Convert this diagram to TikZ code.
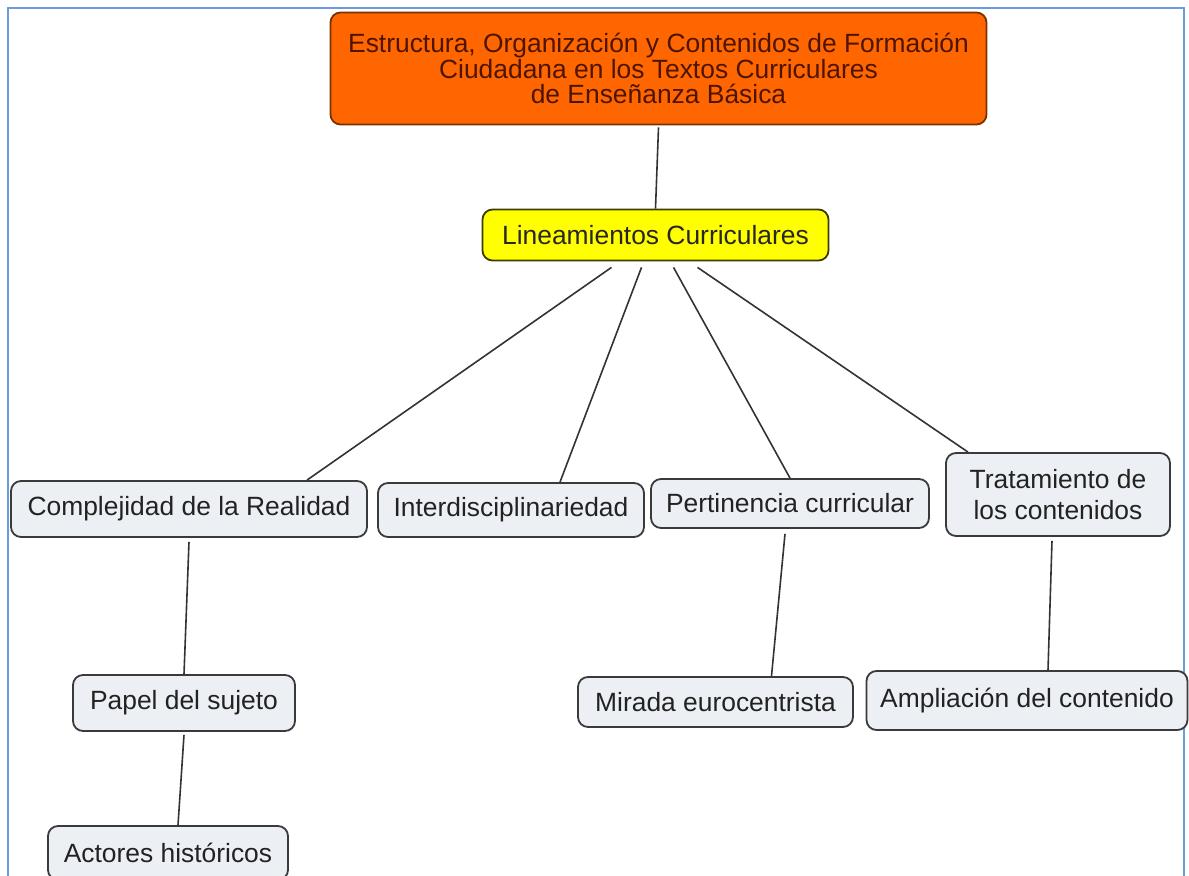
\documentclass[tikz,border=0pt]{standalone}
\usepackage{fontspec}
\setmainfont{Liberation Sans}
\definecolor{mapframe}{HTML}{6B9BE0}
\definecolor{rootfill}{HTML}{FF6600}
\definecolor{rootline}{HTML}{7A3300}
\definecolor{roottext}{HTML}{4D1500}
\definecolor{hubfill}{HTML}{FFFF00}
\definecolor{hubline}{HTML}{3D3D00}
\definecolor{leaffill}{HTML}{ECF0F4}
\definecolor{leafline}{HTML}{3A3A3A}
\definecolor{leaftext}{HTML}{222222}

\begin{document}
\begin{tikzpicture}[x=0.5pt,y=-0.5pt,
        concept/.style={draw=leafline,fill=leaffill,text=leaftext,line width=0.9pt,
            rounded corners=5pt,align=center,inner sep=0pt,
            font=\fontsize{13.2}{15.5}\selectfont},
        rootconcept/.style={concept,draw=rootline,fill=rootfill,text=roottext,
            font=\fontsize{13.2}{12.8}\selectfont},
        hubconcept/.style={concept,draw=hubline,fill=hubfill,text=black!85},
        link/.style={draw=black!80,line width=0.8pt}]
        \useasboundingbox (0,0) rectangle (1189,876);
        \draw[mapframe,line width=1pt] (8,880) -- (8,8) -- (1184,8) -- (1184,880);

        \node[rootconcept,minimum width=328pt,minimum height=56pt] (title) at (658.5,68.5)
            {Estructura, Organización y Contenidos de Formación\\
             Ciudadana en los Textos Curriculares\\
             de Enseñanza Básica};
        \node[hubconcept,minimum width=173pt,minimum height=25.5pt] (lin) at (655.5,235)
            {Lineamientos Curriculares};

        \node[concept,minimum width=178pt,minimum height=28pt] (com) at (189,509)
            {Complejidad de la Realidad};
        \node[concept,minimum width=133pt,minimum height=27pt] (inter) at (511,510)
            {Interdisciplinariedad};
        \node[concept,minimum width=139pt,minimum height=24.5pt] (pert) at (790,503.5)
            {Pertinencia curricular};
        \node[concept,minimum width=112pt,minimum height=41.5pt] (trat) at (1058,494.5)
            {Tratamiento de\\los contenidos};

        \node[concept,minimum width=111pt,minimum height=28pt] (papel) at (184,703)
            {Papel del sujeto};
        \node[concept,minimum width=120pt,minimum height=27pt] (act) at (168,853)
            {Actores históricos};
        \node[concept,minimum width=137.5pt,minimum height=25pt] (mir) at (715.5,702)
            {Mirada eurocentrista};
        \node[concept,minimum width=160.5pt,minimum height=29.5pt] (amp) at (1027,700.5)
            {Ampliación del contenido};

        \draw[link] ([yshift=-1pt]title.south) -- (lin.north);
        \draw[link] ([xshift=-22pt,yshift=-3pt]lin.south) -- ([xshift=59pt]com.north);
        \draw[link] ([xshift=-7pt,yshift=-3pt]lin.south) -- ([xshift=24.5pt]inter.north);
        \draw[link] ([xshift=9pt,yshift=-3pt]lin.south) -- (pert.north);
        \draw[link] ([xshift=21pt,yshift=-3pt]lin.south) -- ([xshift=-45pt]trat.north);
        \draw[link] ([yshift=-2pt]com.south) -- (papel.north);
        \draw[link] ([yshift=-1.5pt]papel.south) -- ([xshift=5pt]act.north);
        \draw[link] ([xshift=-2.5pt,yshift=-2.5pt]pert.south) -- ([xshift=28pt]mir.north);
        \draw[link] ([xshift=-3pt,yshift=-2pt]trat.south) -- ([xshift=10.5pt]amp.north);
\end{tikzpicture}
\end{document}
